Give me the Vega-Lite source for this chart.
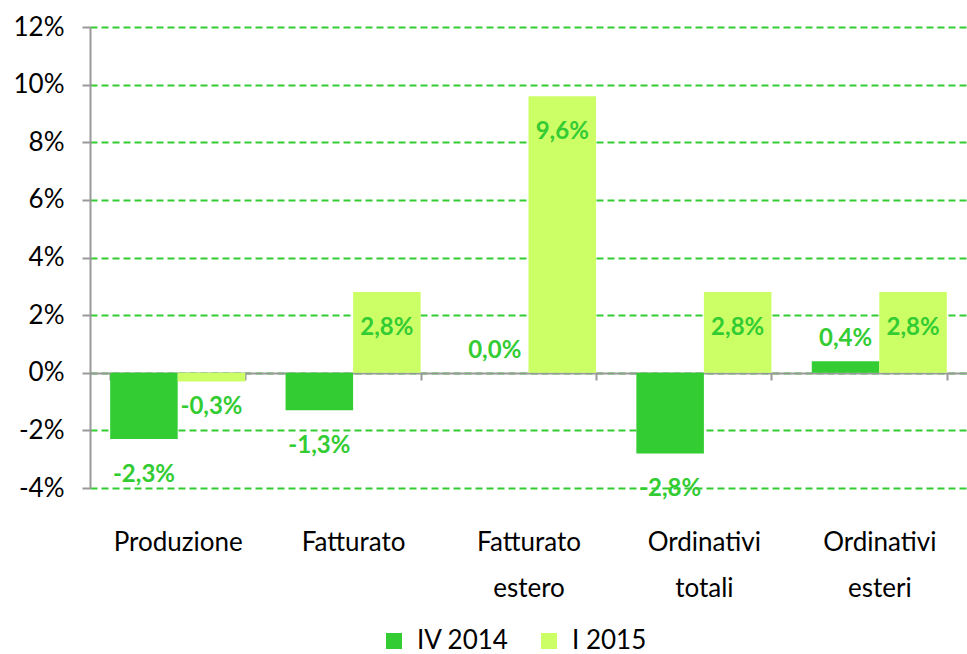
{
  "$schema": "https://vega.github.io/schema/vega-lite/v6.json",
  "width": 877,
  "height": 461,
  "autosize": {"type": "none"},
  "padding": {"left": 90, "top": 27, "right": 0, "bottom": 166},
  "config": {
    "locale": {"number": {"decimal": ",", "thousands": ".", "grouping": [3], "currency": ["€", ""], "minus": "-"}},
    "view": {"stroke": null},
    "font": "Lato"
  },
  "data": {
    "values": [
      {"cat": "Produzione", "series": "IV 2014", "value": -0.023},
      {"cat": "Produzione", "series": "I 2015", "value": -0.003},
      {"cat": "Fatturato", "series": "IV 2014", "value": -0.013},
      {"cat": "Fatturato", "series": "I 2015", "value": 0.028},
      {"cat": "Fatturato estero", "series": "IV 2014", "value": 0.0},
      {"cat": "Fatturato estero", "series": "I 2015", "value": 0.096},
      {"cat": "Ordinativi totali", "series": "IV 2014", "value": -0.028},
      {"cat": "Ordinativi totali", "series": "I 2015", "value": 0.028},
      {"cat": "Ordinativi esteri", "series": "IV 2014", "value": 0.004},
      {"cat": "Ordinativi esteri", "series": "I 2015", "value": 0.028}
    ]
  },
  "encoding": {
    "x": {
      "field": "cat", "type": "nominal",
      "sort": ["Produzione", "Fatturato", "Fatturato estero", "Ordinativi totali", "Ordinativi esteri"],
      "scale": {"paddingInner": 0.23, "paddingOuter": 0.115},
      "axis": {
        "title": null, "offset": -115, "domainColor": "#999999", "domainWidth": 2,
        "tickColor": "#999999", "tickWidth": 2, "tickSize": 7, "tickBand": "extent",
        "labelAngle": 0, "labelFontSize": 26, "labelColor": "#000000", "labelPadding": 149,
        "labelExpr": "split(datum.label, ' ')", "labelLineHeight": 46, "labelFont": "Lato"
      }
    },
    "xOffset": {"field": "series", "type": "nominal", "sort": ["IV 2014", "I 2015"], "scale": {"paddingInner": 0}},
    "y": {
      "field": "value", "type": "quantitative",
      "scale": {"domain": [-0.04, 0.12], "nice": false},
      "axis": {
        "title": null, "format": ".0%",
        "values": [-0.04, -0.02, 0, 0.02, 0.04, 0.06, 0.08, 0.1, 0.12],
        "labelFontSize": 26, "labelColor": "#000000", "labelPadding": 18, "labelFont": "Lato",
        "tickSize": 8, "tickColor": "#999999", "tickWidth": 2,
        "domainColor": "#999999", "domainWidth": 2,
        "gridColor": "#33CC33", "gridDash": [7, 4], "gridWidth": 2
      }
    }
  },
  "layer": [
    {
      "mark": {"type": "bar"},
      "encoding": {
        "color": {
          "field": "series", "type": "nominal",
          "scale": {"domain": ["IV 2014", "I 2015"], "range": ["#33CC33", "#CCFF66"]},
          "legend": {
            "title": null, "orient": "none", "legendX": 291, "legendY": 601,
            "direction": "horizontal", "symbolType": "square", "symbolSize": 256,
            "symbolStrokeWidth": 0, "labelFontSize": 26, "labelColor": "#000000",
            "labelFont": "Lato", "labelOffset": 10, "columnPadding": 27
          }
        }
      }
    },
    {
      "transform": [{"filter": "datum.series == 'IV 2014' && datum.value < 0"}],
      "mark": {"type": "text", "baseline": "middle", "dy": 36, "fontSize": 24, "fontWeight": "bold", "color": "#33CC33"},
      "encoding": {"text": {"field": "value", "type": "quantitative", "format": ".1%"}}
    },
    {
      "transform": [{"filter": "datum.series == 'IV 2014' && datum.value >= 0"}],
      "mark": {"type": "text", "baseline": "middle", "dy": -22, "fontSize": 24, "fontWeight": "bold", "color": "#33CC33"},
      "encoding": {"text": {"field": "value", "type": "quantitative", "format": ".1%"}}
    },
    {
      "transform": [{"filter": "datum.series == 'I 2015' && datum.value >= 0"}],
      "mark": {"type": "text", "baseline": "middle", "dy": 36, "fontSize": 24, "fontWeight": "bold", "color": "#33CC33"},
      "encoding": {"text": {"field": "value", "type": "quantitative", "format": ".1%"}}
    },
    {
      "transform": [{"filter": "datum.series == 'I 2015' && datum.value < 0"}],
      "mark": {"type": "text", "baseline": "middle", "dy": 26, "fontSize": 24, "fontWeight": "bold", "color": "#33CC33"},
      "encoding": {"text": {"field": "value", "type": "quantitative", "format": ".1%"}}
    }
  ]
}
